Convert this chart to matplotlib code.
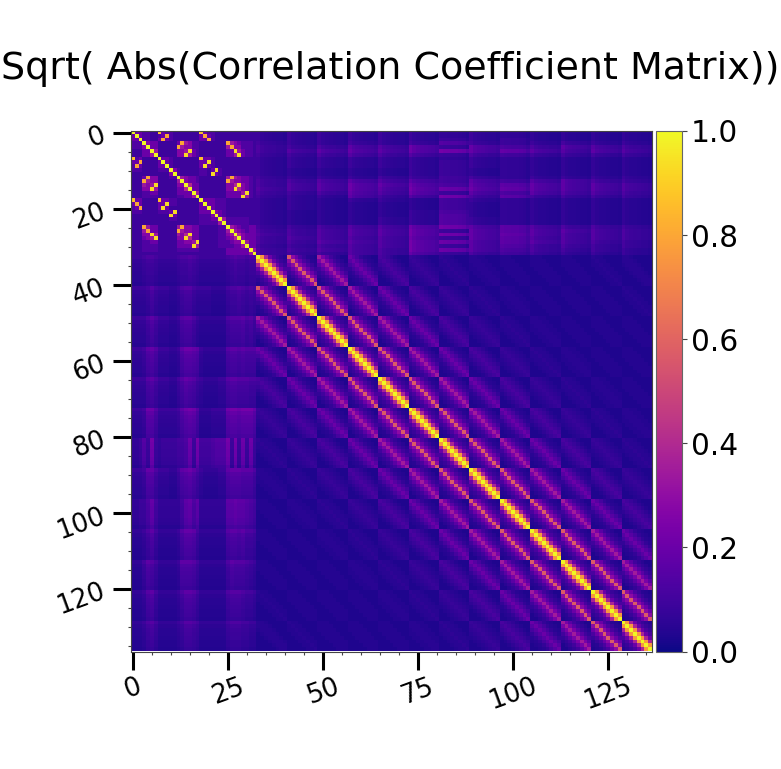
#!/usr/bin/python

import numpy as np
import matplotlib
matplotlib.use("Agg")
import matplotlib.pyplot as plt
from matplotlib.ticker import MultipleLocator

# upper triangle of the first 33 features, hex digit / 15
first_rows = [
    "f33 2211 d32 21 111111 d32 21 11 111111 11",
    ".f3 2211 23c 21 111111 3c3 21 11 111111 11",
    "..f 2211 3c3 21 111111 33c 21 11 111111 11",
    "... f433 111 11 3c5422 111 11 11 c54322 21",
    "... .f33 111 11 c54422 111 11 11 5c4422 21",
    "... ..f5 111 11 445e32 111 11 11 33e532 21",
    "... ...f 111 11 44e532 111 11 11 335e32 21",
    "... .... f33 21 111111 d33 21 11 111111 11",
    "... .... .f3 21 111111 33e 21 11 111111 11",
    "... .... ..f 21 111111 3e3 21 11 111111 11",
    "... .... ... f4 211111 221 3e 21 111111 11",
    "... .... ... .f 211111 221 e3 21 111111 11",
    "... .... ... .. f54332 111 11 11 5c5433 21",
    "... .... ... .. .f4332 111 11 11 c54433 21",
    "... .... ... .. ..f633 111 11 11 446e43 21",
    "... .... ... .. ...f33 111 11 11 44e643 21",
    "... .... ... .. ....f5 111 11 11 33335e 21",
    "... .... ... .. .....f 111 11 11 3333e5 21",
    "... .... ... .. ...... f33 32 22 111111 11",
    "... .... ... .. ...... .f3 32 22 111111 11",
    "... .... ... .. ...... ..f 32 22 111111 11",
    "... .... ... .. ...... ... f4 32 111111 11",
    "... .... ... .. ...... ... .f 32 111111 11",
    "... .... ... .. ...... ... .. f5 222222 11",
    "... .... ... .. ...... ... .. .f 222222 11",
    "... .... ... .. ...... ... .. .. f54322 33",
    "... .... ... .. ...... ... .. .. .f5432 33",
    "... .... ... .. ...... ... .. .. ..f643 33",
    "... .... ... .. ...... ... .. .. ...f43 33",
    "... .... ... .. ...... ... .. .. ....f5 33",
    "... .... ... .. ...... ... .. .. .....f 33",
    "... .... ... .. ...... ... .. .. ...... f5",
    "... .... ... .. ...... ... .. .. ...... .f",
]

# strongest row of each 8-wide block against the first 33 features, digit / 50 + 0.05
block_rows = [
    "222 3443 222 22 344543 222 22 22 345443 44",
    "222 2353 222 11 245532 222 11 11 344543 43",
    "222 2464 222 11 256642 111 11 11 455564 53",
    "222 3675 222 11 268876 211 11 11 566565 55",
    "222 2564 222 11 357653 211 11 22 566555 44",
    "222 3885 222 22 368985 111 22 22 899899 97",
    "112 5292 122 22 334829 333 45 55 929282 82",
    "222 3774 222 11 367864 211 11 22 677766 64",
    "112 2473 111 11 136746 111 11 11 667665 43",
    "111 2463 111 11 257763 111 11 11 566564 43",
    "111 3653 111 11 266653 111 11 11 465554 32",
    "111 2563 111 11 246653 111 11 11 455543 32",
    "111 2453 111 11 235543 111 11 11 344433 22",
]

fade_common = [1.0, 0.8, 0.72, 0.68, 0.64, 0.6, 0.58, 0.52]
fade_stripes = [1.0, 0.95, 0.92, 0.9, 0.9, 0.85, 0.8, 0.65]
block_fades = [fade_common] * 6 + [fade_stripes, fade_common, fade_stripes] + [fade_common] * 4

# rows: how many blocks apart, columns: how many cells off the block diagonal
band_levels = [
    [1.00, 0.76, 0.38, 0.20, 0.12, 0.08, 0.06, 0.04],
    [0.57, 0.29, 0.20, 0.12, 0.08, 0.05, 0.04, 0.03],
    [0.35, 0.24, 0.16, 0.10, 0.07, 0.05, 0.03, 0.03],
    [0.20, 0.15, 0.11, 0.07, 0.05, 0.04, 0.03, 0.03],
    [0.12, 0.10, 0.08, 0.06, 0.04, 0.03, 0.03, 0.03],
    [0.08, 0.07, 0.06, 0.05, 0.04, 0.03, 0.03, 0.03],
    [0.06, 0.05, 0.05, 0.04, 0.03, 0.03, 0.03, 0.03],
    [0.05, 0.05, 0.04, 0.04, 0.03, 0.03, 0.03, 0.03],
    [0.04, 0.04, 0.04, 0.03, 0.03, 0.03, 0.03, 0.03],
    [0.04, 0.04, 0.04, 0.03, 0.03, 0.03, 0.03, 0.03],
    [0.04, 0.04, 0.04, 0.03, 0.03, 0.03, 0.03, 0.03],
    [0.05, 0.04, 0.04, 0.03, 0.03, 0.03, 0.03, 0.03],
    [0.05, 0.05, 0.04, 0.03, 0.03, 0.03, 0.03, 0.03],
]

x_ticks = [0, 25, 50, 75, 100, 125]
y_ticks = [0, 20, 40, 60, 80, 100, 120]
bar_ticks = [0.0, 0.2, 0.4, 0.6, 0.8, 1.0]

n_first = len(first_rows)
block_size = len(band_levels[0])
n_blocks = len(block_rows)
n = n_first + n_blocks * block_size
corr = np.zeros((n, n))

for i, row in enumerate(first_rows):
    row = row.replace(" ", "")
    for j in range(i, n_first):
        corr[i, j] = max(int(row[j], 16) / 15.0, 0.09)

for b, row in enumerate(block_rows):
    row = row.replace(" ", "")
    for k in range(block_size):
        for j in range(n_first):
            corr[j, n_first + b * block_size + k] = (int(row[j]) / 50.0 + 0.05) * block_fades[b][k]

for bi in range(n_blocks):
    for bj in range(bi, n_blocks):
        for k in range(block_size):
            for l in range(block_size):
                i = n_first + bi * block_size + k
                j = n_first + bj * block_size + l
                corr[i, j] = band_levels[bj - bi][abs(k - l)]

corr = np.triu(corr) + np.triu(corr, 1).T

fig = plt.figure(figsize=(7.81, 7.69), dpi=100)
ax = fig.add_axes([131 / 781, (769 - 651.5) / 769, 521 / 781, 520.5 / 769])
im = ax.imshow(corr, cmap="plasma", vmin=0, vmax=1, aspect="auto")

ax.set_xticks(x_ticks)
ax.set_yticks(y_ticks)
ax.xaxis.set_minor_locator(MultipleLocator(5))
ax.yaxis.set_minor_locator(MultipleLocator(5))
ax.tick_params(which="major", length=13, width=2.2, labelsize=18.5, pad=3)
ax.tick_params(which="minor", length=2.5, width=0.8, color="#444444")
plt.setp(ax.get_xticklabels(), rotation=20)
plt.setp(ax.get_yticklabels(), rotation=20)
for spine in ax.spines.values():
    spine.set_linewidth(0.8)
    spine.set_color("#444444")

cax = fig.add_axes([655.5 / 781, (769 - 651.5) / 769, 26.5 / 781, 520.5 / 769])
bar = fig.colorbar(im, cax=cax, ticks=bar_ticks)
bar.ax.tick_params(labelsize=21.3, color="#444444", pad=3)
bar.outline.set_edgecolor("#666666")

fig.text(0.5, (769 - 69) / 769, "Sqrt( Abs(Correlation Coefficient Matrix))",
         fontsize=27.4, ha="center", va="center")

fig.savefig("out.png", dpi=100)
